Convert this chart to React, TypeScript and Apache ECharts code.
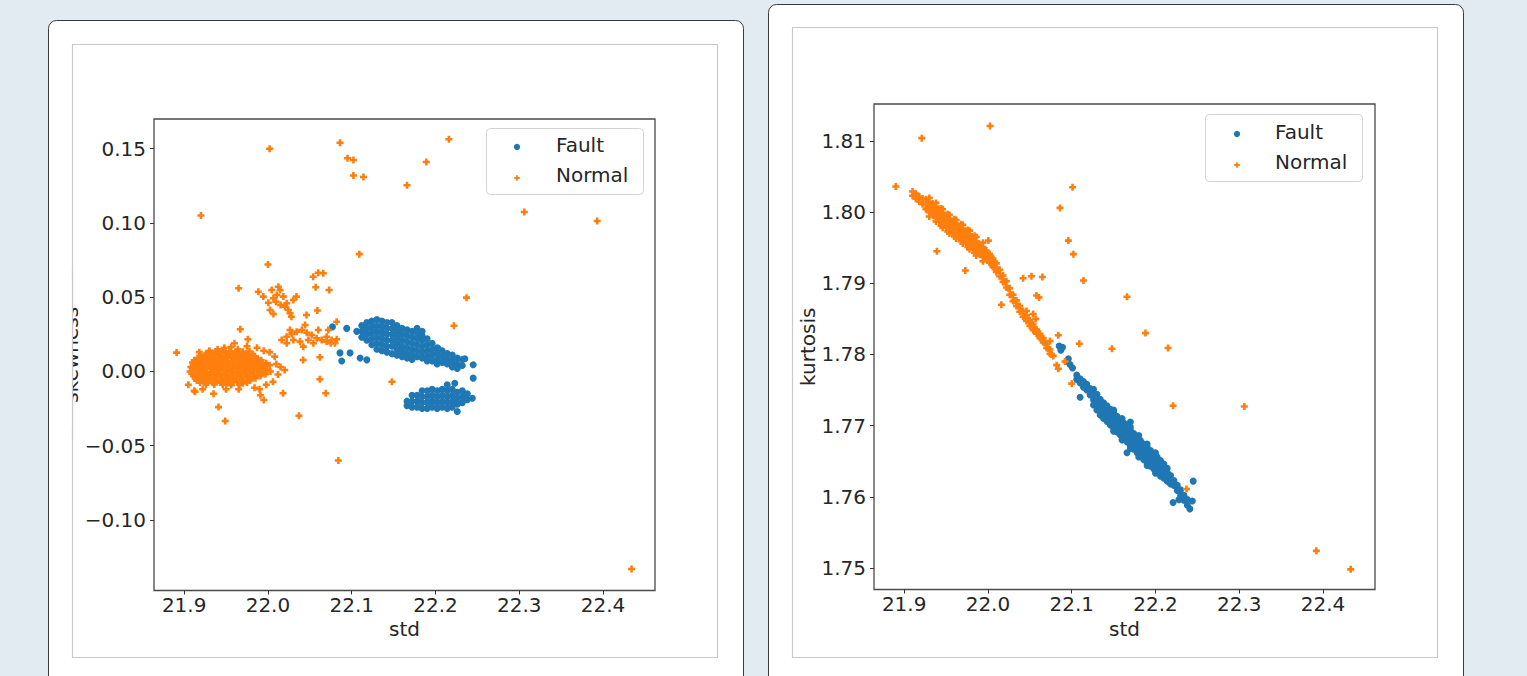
import React, { useEffect, useRef } from 'react';
import * as echarts from 'echarts';

// ---------- axis ranges & ticks ----------
const stdRange = [21.864, 22.462];
const skewRange = [-0.1475, 0.17];
const kurtRange = [1.74697, 1.8152];
const stdTicks = [21.9, 22.0, 22.1, 22.2, 22.3, 22.4];
const skewTicks = [-0.1, -0.05, 0, 0.05, 0.1, 0.15];
const kurtTicks = [1.75, 1.76, 1.77, 1.78, 1.79, 1.8, 1.81];
const legendNames = ['Fault', 'Normal'];

// ---------- std vs skewness : Fault ----------
const skewFaultUpper: number[][] = [
  [22.112, 0.031], [22.112, 0.027], [22.112, 0.023],
  [22.118, 0.033], [22.118, 0.029], [22.118, 0.025], [22.118, 0.021],
  [22.124, 0.034], [22.124, 0.03], [22.124, 0.026], [22.124, 0.022], [22.124, 0.018],
  [22.13, 0.035], [22.13, 0.031], [22.13, 0.027], [22.13, 0.023], [22.13, 0.019], [22.13, 0.015],
  [22.136, 0.034], [22.136, 0.03], [22.136, 0.026], [22.136, 0.022], [22.136, 0.018], [22.136, 0.014],
  [22.142, 0.033], [22.142, 0.029], [22.142, 0.025], [22.142, 0.021], [22.142, 0.017], [22.142, 0.013],
  [22.148, 0.033], [22.148, 0.029], [22.148, 0.025], [22.148, 0.021], [22.148, 0.017], [22.148, 0.012],
  [22.154, 0.031], [22.154, 0.027], [22.154, 0.023], [22.154, 0.019], [22.154, 0.015], [22.154, 0.011],
  [22.16, 0.029], [22.16, 0.025], [22.16, 0.021], [22.16, 0.017], [22.16, 0.013], [22.16, 0.01],
  [22.166, 0.028], [22.166, 0.024], [22.166, 0.02], [22.166, 0.016], [22.166, 0.012], [22.166, 0.009],
  [22.172, 0.027], [22.172, 0.023], [22.172, 0.019], [22.172, 0.015], [22.172, 0.011], [22.172, 0.008],
  [22.178, 0.029], [22.178, 0.026], [22.178, 0.022], [22.178, 0.018], [22.178, 0.014], [22.178, 0.01],
  [22.184, 0.027], [22.184, 0.024], [22.184, 0.021], [22.184, 0.017], [22.184, 0.013], [22.184, 0.009],
  [22.19, 0.022], [22.19, 0.018], [22.19, 0.014], [22.19, 0.01], [22.19, 0.007],
  [22.196, 0.019], [22.196, 0.015], [22.196, 0.011], [22.196, 0.007],
  [22.202, 0.016], [22.202, 0.012], [22.202, 0.008], [22.202, 0.005],
  [22.208, 0.014], [22.208, 0.01], [22.208, 0.006],
  [22.214, 0.012], [22.214, 0.008], [22.214, 0.005],
  [22.22, 0.011], [22.22, 0.007], [22.22, 0.003],
  [22.226, 0.009], [22.226, 0.005], [22.226, 0.002],
  [22.232, 0.008], [22.232, 0.004],
  [22.235, 0.0085], [22.245, 0.0045], [22.245, -0.0045],
  [22.077, 0.03], [22.094, 0.029], [22.086, 0.0125], [22.088, 0.007], [22.098, 0.0125],
  [22.11, 0.009], [22.118, 0.0078], [22.106, 0.027], [22.203, 0.0155],
];
const skewFaultLower: number[][] = [
  [22.166, -0.023], [22.166, -0.02],
  [22.172, -0.024], [22.172, -0.02], [22.172, -0.016],
  [22.178, -0.024], [22.178, -0.02], [22.178, -0.016],
  [22.184, -0.025], [22.184, -0.021], [22.184, -0.017], [22.184, -0.013],
  [22.19, -0.025], [22.19, -0.021], [22.19, -0.017], [22.19, -0.013],
  [22.196, -0.024], [22.196, -0.02], [22.196, -0.016], [22.196, -0.012],
  [22.202, -0.025], [22.202, -0.021], [22.202, -0.017], [22.202, -0.013],
  [22.208, -0.024], [22.208, -0.02], [22.208, -0.016], [22.208, -0.012],
  [22.214, -0.025], [22.214, -0.021], [22.214, -0.017], [22.214, -0.013], [22.214, -0.009],
  [22.22, -0.024], [22.22, -0.02], [22.22, -0.016], [22.22, -0.012],
  [22.226, -0.027], [22.226, -0.022], [22.226, -0.018], [22.226, -0.014],
  [22.232, -0.021], [22.232, -0.017], [22.232, -0.013],
  [22.238, -0.019], [22.238, -0.015],
  [22.244, -0.018], [22.223, -0.008],
];

// ---------- std vs skewness : Normal ----------
const skewNormalBlob: number[][] = [
  [21.94, 0.015], [21.948, 0.016], [21.956, 0.0165], [21.964, 0.015],
  [21.926, 0.012], [21.934, 0.0125], [21.942, 0.012], [21.95, 0.0125], [21.958, 0.012], [21.966, 0.0118], [21.974, 0.012], [21.982, 0.0115],
  [21.916, 0.009], [21.924, 0.0092], [21.932, 0.009], [21.94, 0.0088], [21.948, 0.009], [21.956, 0.0092], [21.964, 0.009], [21.972, 0.0088], [21.98, 0.009], [21.988, 0.0085],
  [21.91, 0.006], [21.918, 0.0062], [21.926, 0.006], [21.934, 0.0058], [21.942, 0.006], [21.95, 0.0062], [21.958, 0.006], [21.966, 0.0058], [21.974, 0.006], [21.982, 0.0062], [21.99, 0.006], [21.998, 0.0055],
  [21.908, 0.003], [21.916, 0.0032], [21.924, 0.003], [21.932, 0.0028], [21.94, 0.003], [21.948, 0.0032], [21.956, 0.003], [21.964, 0.0028], [21.972, 0.003], [21.98, 0.0032], [21.988, 0.003], [21.996, 0.0028],
  [21.907, 0.0], [21.915, 0.0002], [21.923, 0.0], [21.931, -0.0002], [21.939, 0.0], [21.947, 0.0002], [21.955, 0.0], [21.963, -0.0002], [21.971, 0.0], [21.979, 0.0002], [21.987, 0.0], [21.995, -0.0002], [22.003, 0.0],
  [21.911, -0.003], [21.919, -0.0028], [21.927, -0.003], [21.935, -0.0032], [21.943, -0.003], [21.951, -0.0028], [21.959, -0.003], [21.967, -0.0032], [21.975, -0.003], [21.983, -0.0028], [21.991, -0.003],
  [21.915, -0.006], [21.923, -0.0058], [21.931, -0.006], [21.939, -0.0062], [21.947, -0.006], [21.955, -0.0058], [21.963, -0.006], [21.971, -0.0062], [21.979, -0.006],
  [21.926, -0.009], [21.936, -0.0088], [21.946, -0.009], [21.956, -0.0092], [21.966, -0.009],
  [21.905, -0.009], [21.912, -0.013], [21.922, -0.012], [21.935, -0.015], [21.95, -0.012], [21.99, -0.012],
  [21.991, -0.016], [21.97, -0.008], [22.01, 0.005], [22.012, -0.002], [22.015, 0.003], [22.02, 0.001],
  [22.008, 0.01], [22.002, 0.013], [21.995, 0.014], [21.987, 0.016], [21.975, 0.017], [21.96, 0.019],
  [21.93, 0.014], [21.918, 0.013], [22.006, -0.007], [21.998, -0.009], [21.984, -0.011], [21.965, -0.012],
];
const skewNormalBlobFill: number[][] = [
  [21.93, 0.0135], [21.938, 0.0135], [21.946, 0.0138], [21.954, 0.0135], [21.962, 0.0135], [21.97, 0.0132], [21.978, 0.0135],
  [21.92, 0.0105], [21.928, 0.0105], [21.936, 0.0108], [21.944, 0.0105], [21.952, 0.0105], [21.96, 0.0102], [21.968, 0.0105], [21.976, 0.0105], [21.984, 0.0102],
  [21.912, 0.0075], [21.92, 0.0075], [21.928, 0.0078], [21.936, 0.0075], [21.944, 0.0075], [21.952, 0.0072], [21.96, 0.0075], [21.968, 0.0075], [21.976, 0.0078], [21.984, 0.0075], [21.992, 0.0075],
  [21.914, 0.0045], [21.922, 0.0045], [21.93, 0.0048], [21.938, 0.0045], [21.946, 0.0045], [21.954, 0.0042], [21.962, 0.0045], [21.97, 0.0045], [21.978, 0.0048], [21.986, 0.0045], [21.994, 0.0045], [22.002, 0.0042],
  [21.911, 0.0015], [21.919, 0.0015], [21.927, 0.0018], [21.935, 0.0015], [21.943, 0.0015], [21.951, 0.0012], [21.959, 0.0015], [21.967, 0.0015], [21.975, 0.0018], [21.983, 0.0015], [21.991, 0.0015], [21.999, 0.0012],
  [21.909, -0.0015], [21.917, -0.0015], [21.925, -0.0012], [21.933, -0.0015], [21.941, -0.0015], [21.949, -0.0018], [21.957, -0.0015], [21.965, -0.0015], [21.973, -0.0012], [21.981, -0.0015], [21.989, -0.0015], [21.997, -0.0018],
  [21.913, -0.0045], [21.921, -0.0045], [21.929, -0.0042], [21.937, -0.0045], [21.945, -0.0045], [21.953, -0.0048], [21.961, -0.0045], [21.969, -0.0045], [21.977, -0.0042], [21.985, -0.0045],
  [21.919, -0.0075], [21.927, -0.0075], [21.935, -0.0078], [21.943, -0.0075], [21.951, -0.0075], [21.959, -0.0072], [21.967, -0.0075], [21.975, -0.0075],
];
const skewNormalUpper: number[][] = [
  [21.9885, 0.0537], [21.9945, 0.0504], [22.0005, 0.0463], [22.0065, 0.0493], [22.0105, 0.0515],
  [22.0145, 0.0549], [22.0096, 0.047], [22.0152, 0.0448], [22.0204, 0.0436], [22.0243, 0.0414],
  [22.0263, 0.0392], [22.0224, 0.0459], [22.0303, 0.0481], [22.0184, 0.0504], [22.0124, 0.0571],
  [22.0045, 0.0549], [22.0025, 0.0414], [22.0065, 0.0387], [22.028, 0.0369],
];
const skewNormalMid: number[][] = [
  [22.0164, 0.0212], [22.0224, 0.0234], [22.0284, 0.0253], [22.0343, 0.0268], [22.0403, 0.0279],
  [22.0463, 0.0261], [22.0522, 0.0246], [22.0582, 0.0224], [22.0642, 0.0212], [22.0701, 0.0234],
  [22.0761, 0.0212], [22.0821, 0.0217], [22.0303, 0.0212], [22.0383, 0.0201], [22.0482, 0.0212],
  [22.0542, 0.019], [22.0263, 0.0279], [22.0443, 0.0313], [22.0601, 0.0279], [22.072, 0.0279],
  [22.0749, 0.019], [22.0224, 0.019], [22.0422, 0.0167], [22.0701, 0.0201], [22.08, 0.019],
];
const skewNormalSparse: number[][] = [
  [22.002, 0.15], [21.92, 0.105], [22.086, 0.154], [22.095, 0.1436], [22.102, 0.1424], [22.102, 0.132],
  [22.114, 0.131], [22.166, 0.1254], [22.189, 0.141], [22.216, 0.1564], [22.109, 0.079], [22.0, 0.072],
  [21.965, 0.056], [22.237, 0.0497], [22.222, 0.0308], [22.148, -0.0069], [21.891, 0.0127],
  [22.054, 0.0638], [22.06, 0.0665], [22.066, 0.0661], [22.057, 0.0567], [22.073, 0.0549],
  [22.034, 0.0504], [22.059, 0.041], [22.046, 0.038], [22.082, 0.0335], [21.967, 0.0284],
  [21.976, 0.0217], [22.062, 0.0096], [22.042, 0.0077], [22.062, -0.0053], [22.069, -0.0147],
  [22.018, -0.0147], [21.995, -0.0192], [21.941, -0.024], [21.949, -0.0333], [22.037, -0.0298],
  [22.084, -0.06], [22.434, -0.133], [22.306, 0.1074], [22.393, 0.1013], [21.913, -0.0136],
];

// ---------- std vs kurtosis : Fault ----------
const kurtFault: number[][] = [
  [22.085, 1.7812], [22.087, 1.7806], [22.089, 1.781], [22.094, 1.779], [22.098, 1.7786], [22.101, 1.7781], [22.096, 1.7794],
  [22.106, 1.7771], [22.106, 1.7765], [22.11, 1.7766], [22.11, 1.776], [22.114, 1.7762], [22.114, 1.7754],
  [22.118, 1.7758], [22.118, 1.775], [22.122, 1.7752], [22.122, 1.7743],
  [22.126, 1.7751], [22.126, 1.7744], [22.126, 1.7736], [22.126, 1.7729],
  [22.13, 1.7744], [22.13, 1.7737], [22.13, 1.7729], [22.13, 1.7722],
  [22.134, 1.7737], [22.134, 1.773], [22.134, 1.7722], [22.134, 1.7715],
  [22.138, 1.7732], [22.138, 1.7725], [22.138, 1.7717], [22.138, 1.771],
  [22.142, 1.7728], [22.142, 1.7721], [22.142, 1.7713], [22.142, 1.7706],
  [22.146, 1.7723], [22.146, 1.7716], [22.146, 1.7708], [22.146, 1.7701],
  [22.15, 1.7718], [22.15, 1.7711], [22.15, 1.7703], [22.15, 1.7696],
  [22.154, 1.7713], [22.154, 1.7706], [22.154, 1.7698], [22.154, 1.7691],
  [22.158, 1.7709], [22.158, 1.7702], [22.158, 1.7694], [22.158, 1.7687],
  [22.162, 1.7704], [22.162, 1.7697], [22.162, 1.7689], [22.162, 1.7682],
  [22.166, 1.7699], [22.166, 1.7692], [22.166, 1.7684], [22.166, 1.7677],
  [22.17, 1.7694], [22.17, 1.7687], [22.17, 1.7679], [22.17, 1.7672],
  [22.174, 1.7689], [22.174, 1.7682], [22.174, 1.7674], [22.174, 1.7667],
  [22.178, 1.7684], [22.178, 1.7677], [22.178, 1.7669], [22.178, 1.7662],
  [22.182, 1.7679], [22.182, 1.7672], [22.182, 1.7664], [22.182, 1.7657],
  [22.186, 1.7674], [22.186, 1.7667], [22.186, 1.7659], [22.186, 1.7652],
  [22.19, 1.767], [22.19, 1.7663], [22.19, 1.7655], [22.19, 1.7648],
  [22.194, 1.7665], [22.194, 1.7658], [22.194, 1.765], [22.194, 1.7643],
  [22.198, 1.7661], [22.198, 1.7654], [22.198, 1.7646], [22.198, 1.7639],
  [22.202, 1.7656], [22.202, 1.7649], [22.202, 1.7641], [22.202, 1.7634],
  [22.206, 1.7651], [22.206, 1.7644], [22.206, 1.7636], [22.206, 1.7629],
  [22.21, 1.7646], [22.21, 1.7639], [22.21, 1.7632], [22.21, 1.7626],
  [22.214, 1.764], [22.214, 1.7634], [22.214, 1.7628], [22.214, 1.7622],
  [22.218, 1.763], [22.218, 1.7624], [22.218, 1.7618],
  [22.222, 1.7623], [22.222, 1.7616], [22.226, 1.7616], [22.226, 1.7609],
  [22.23, 1.761], [22.23, 1.7602], [22.234, 1.7602], [22.234, 1.7595],
  [22.238, 1.7596], [22.238, 1.7588],
  [22.241, 1.7583], [22.245, 1.7622], [22.244, 1.7594], [22.221, 1.7592], [22.166, 1.7662],
  [22.17, 1.7705], [22.11, 1.774], [22.228, 1.7596],
  [22.15, 1.7722], [22.15, 1.7692], [22.17, 1.7698], [22.17, 1.7668], [22.19, 1.7674], [22.19, 1.7644],
  [22.16, 1.771], [22.18, 1.7686], [22.2, 1.7662], [22.16, 1.768], [22.18, 1.7656], [22.2, 1.7633],
];

// ---------- std vs kurtosis : Normal ----------
const kurtNormalStreak: number[][] = [
  [21.91, 1.8029], [21.91, 1.8023], [21.914, 1.8026], [21.914, 1.8019], [21.918, 1.8022], [21.918, 1.8015],
  [21.922, 1.8019], [21.922, 1.8011],
  [21.926, 1.8018], [21.926, 1.8011], [21.926, 1.8004],
  [21.93, 1.8014], [21.93, 1.8007], [21.93, 1.8],
  [21.934, 1.8012], [21.934, 1.8004], [21.934, 1.7996],
  [21.938, 1.8008], [21.938, 1.8], [21.938, 1.7992],
  [21.942, 1.8003], [21.942, 1.7995], [21.942, 1.7987],
  [21.946, 1.7999], [21.946, 1.7991], [21.946, 1.7983],
  [21.95, 1.7995], [21.95, 1.7987], [21.95, 1.7979],
  [21.954, 1.7991], [21.954, 1.7983], [21.954, 1.7975],
  [21.958, 1.7987], [21.958, 1.7979], [21.958, 1.7971],
  [21.962, 1.7984], [21.962, 1.7976], [21.962, 1.7968],
  [21.966, 1.798], [21.966, 1.7972], [21.966, 1.7964],
  [21.97, 1.7977], [21.97, 1.7969], [21.97, 1.7961],
  [21.974, 1.7973], [21.974, 1.7965], [21.974, 1.7957],
  [21.978, 1.7969], [21.978, 1.7961], [21.978, 1.7953],
  [21.982, 1.7964], [21.982, 1.7957], [21.982, 1.795],
  [21.986, 1.7959], [21.986, 1.7952], [21.986, 1.7945],
  [21.99, 1.7955], [21.99, 1.7948], [21.99, 1.7941],
  [21.994, 1.7951], [21.994, 1.7944], [21.994, 1.7937],
  [21.998, 1.7946], [21.998, 1.794], [21.998, 1.7934],
  [22.002, 1.7941], [22.002, 1.7935], [22.002, 1.7929],
  [22.006, 1.7935], [22.006, 1.7929], [22.006, 1.7923],
  [22.01, 1.7928], [22.01, 1.7922], [22.01, 1.7916],
  [22.014, 1.7919], [22.014, 1.791], [22.018, 1.7911], [22.018, 1.7902],
  [22.022, 1.7903], [22.022, 1.7894], [22.026, 1.7893], [22.026, 1.7884],
  [22.03, 1.7884], [22.03, 1.7875], [22.034, 1.7876], [22.034, 1.7868],
  [22.038, 1.7868], [22.038, 1.786], [22.042, 1.7861], [22.042, 1.7853],
  [22.046, 1.7855], [22.046, 1.7847], [22.05, 1.7848], [22.05, 1.784],
  [22.054, 1.7842], [22.054, 1.7834], [22.058, 1.7835], [22.058, 1.7829],
  [22.062, 1.7829], [22.062, 1.7823], [22.066, 1.7823], [22.066, 1.7817],
  [22.07, 1.7815], [22.07, 1.7809], [22.074, 1.7807], [22.074, 1.7801], [22.078, 1.7798],
];
const kurtNormalFill: number[][] = [
  [21.928, 1.8013], [21.928, 1.8005], [21.932, 1.801], [21.932, 1.8002], [21.936, 1.8006], [21.936, 1.7998],
  [21.94, 1.8002], [21.94, 1.7994], [21.944, 1.7997], [21.944, 1.7989], [21.948, 1.7993], [21.948, 1.7985],
  [21.952, 1.7989], [21.952, 1.7981], [21.956, 1.7985], [21.956, 1.7977], [21.96, 1.7982], [21.96, 1.7974],
  [21.964, 1.7978], [21.964, 1.797], [21.968, 1.7975], [21.968, 1.7967], [21.972, 1.7971], [21.972, 1.7963],
  [21.976, 1.7967], [21.976, 1.7959], [21.98, 1.7963], [21.98, 1.7955], [21.984, 1.7959], [21.984, 1.7951],
  [21.988, 1.7954], [21.988, 1.7946], [21.992, 1.795], [21.992, 1.7942], [21.996, 1.7946], [21.996, 1.7938],
  [22.0, 1.7942], [22.0, 1.7934], [22.004, 1.7936], [22.004, 1.7928], [22.008, 1.793], [22.008, 1.7922],
  [21.944, 1.8005], [21.944, 1.7981], [21.952, 1.7997], [21.952, 1.7973], [21.96, 1.799], [21.96, 1.7966],
  [21.968, 1.7983], [21.968, 1.7959], [21.976, 1.7975], [21.976, 1.7951], [21.984, 1.7967], [21.984, 1.7943],
  [22.012, 1.7918], [22.016, 1.791], [22.02, 1.7902], [22.024, 1.7893], [22.028, 1.7884], [22.032, 1.7876],
  [22.036, 1.7868], [22.04, 1.7861], [22.044, 1.7854], [22.048, 1.7848], [22.052, 1.7841], [22.056, 1.7835],
  [22.06, 1.7829], [22.064, 1.7823], [22.068, 1.7816], [22.072, 1.7808], [22.076, 1.78],
  [21.93, 1.802], [21.93, 1.7994], [21.938, 1.8013], [21.938, 1.7987], [21.946, 1.8004], [21.946, 1.7978],
  [21.954, 1.7996], [21.954, 1.797], [21.962, 1.7989], [21.962, 1.7963], [21.97, 1.7982], [21.97, 1.7956],
  [21.978, 1.7974], [21.978, 1.7948], [21.986, 1.7965], [21.986, 1.7939], [21.994, 1.7957], [21.994, 1.7931],
];
const kurtNormalSparse: number[][] = [
  [21.921, 1.8104], [22.0025, 1.8121], [21.89, 1.8036], [22.101, 1.8035], [22.086, 1.8006],
  [22.096, 1.796], [22.102, 1.7941], [22.114, 1.7904], [22.166, 1.7881], [22.188, 1.783],
  [22.215, 1.7809], [22.148, 1.7808], [22.109, 1.7815], [22.0005, 1.796], [21.939, 1.7945],
  [21.973, 1.7918], [22.042, 1.7907], [22.052, 1.791], [22.065, 1.7909], [22.058, 1.7883],
  [22.061, 1.788], [22.046, 1.7861], [22.054, 1.7857], [22.057, 1.785], [22.084, 1.7827],
  [22.084, 1.778], [22.1, 1.7759], [22.016, 1.787], [22.074, 1.7819], [22.237, 1.7611],
  [22.221, 1.7728], [22.306, 1.7727], [22.392, 1.7524], [22.433, 1.7498], [22.092, 1.779],
  [22.082, 1.7785],
];

// ---------- styling ----------
const FONT = '"DejaVu Sans", "Liberation Sans", sans-serif';
const TEXT = '#262626';
const BLUE = '#1f77b4';
const ORANGE = '#ff7f0e';
const PLUS = 'path://M1.9,0H4.1V1.9H6V4.1H4.1V6H1.9V4.1H0V1.9H1.9Z';

const fmtSigned = (v: number, d: number) => (v < -1e-9 ? '\u2212' : '') + Math.abs(v).toFixed(d);

function xAxisCfg(gridIndex: number, nameGap: number) {
  return {
    type: 'value', gridIndex, min: stdRange[0], max: stdRange[1],
    name: 'std', nameLocation: 'middle', nameGap,
    nameTextStyle: { fontFamily: FONT, fontSize: 20, color: TEXT },
    axisLine: { show: false, onZero: false }, splitLine: { show: false },
    axisTick: { show: true, inside: false, length: 4, lineStyle: { color: '#333', width: 1 }, customValues: stdTicks },
    axisLabel: { customValues: stdTicks, formatter: (v: number) => v.toFixed(1), margin: 4, fontFamily: FONT, fontSize: 20, color: TEXT },
  };
}
function yAxisCfg(gridIndex: number, range: number[], ticks: number[], name: string, nameGap: number) {
  return {
    type: 'value', gridIndex, min: range[0], max: range[1],
    name, nameLocation: 'middle', nameGap,
    nameTextStyle: { fontFamily: FONT, fontSize: 20, color: TEXT },
    axisLine: { show: false, onZero: false }, splitLine: { show: false },
    axisTick: { show: true, inside: false, length: 4, lineStyle: { color: '#333', width: 1 }, customValues: ticks },
    axisLabel: { customValues: ticks, formatter: (v: number) => fmtSigned(v, 2), margin: 8, fontFamily: FONT, fontSize: 20, color: TEXT },
  };
}

function plusPoints(cx: number, cy: number, h: number, t: number) {
  return [
    [cx - t, cy - h], [cx + t, cy - h], [cx + t, cy - t], [cx + h, cy - t], [cx + h, cy + t], [cx + t, cy + t],
    [cx + t, cy + h], [cx - t, cy + h], [cx - t, cy + t], [cx - h, cy + t], [cx - h, cy - t], [cx - t, cy - t],
  ];
}

function legendBox(x: number, y: number, w: number, h: number, markX: number, textX: number, row1: number, row2: number) {
  return [
    { type: 'rect', z: 20, shape: { x, y, width: w, height: h, r: 4 }, style: { fill: 'rgba(255,255,255,0.85)', stroke: '#d3d3d3', lineWidth: 1 } },
    { type: 'circle', z: 21, shape: { cx: markX, cy: row1 + 2, r: 3.1 }, style: { fill: BLUE } },
    { type: 'polygon', z: 21, shape: { points: plusPoints(markX, row2 + 3, 2.8, 0.9) }, style: { fill: ORANGE } },
    { type: 'text', z: 21, x: textX, y: row1, style: { text: legendNames[0], font: `20px ${FONT}`, fill: TEXT, verticalAlign: 'middle', align: 'left' } },
    { type: 'text', z: 21, x: textX, y: row2, style: { text: legendNames[1], font: `20px ${FONT}`, fill: TEXT, verticalAlign: 'middle', align: 'left' } },
  ];
}

function scatter(name: string, data: number[][], idx: number, isFault: boolean) {
  return {
    type: 'scatter', name, data, xAxisIndex: idx, yAxisIndex: idx,
    symbol: isFault ? 'circle' : PLUS, symbolSize: 7,
    itemStyle: { color: isFault ? BLUE : ORANGE, opacity: 1 },
    z: isFault ? 2 : 3,
  };
}

export default function App() {
  const ref = useRef<HTMLDivElement>(null);
  useEffect(() => {
    const chart = echarts.init(ref.current!, undefined, { renderer: 'svg' });
    const option: any = {
      animation: false,
      backgroundColor: '#e2eaf2',
      grid: [
        { left: 154, top: 119, width: 501, height: 471.5, show: true, borderColor: '#4a4a4a', borderWidth: 1.3, backgroundColor: '#fff', containLabel: false },
        { left: 874, top: 104, width: 501, height: 485.5, show: true, borderColor: '#4a4a4a', borderWidth: 1.3, backgroundColor: '#fff', containLabel: false },
      ],
      xAxis: [xAxisCfg(0, 25), xAxisCfg(1, 29)],
      yAxis: [
        yAxisCfg(0, skewRange, skewTicks, 'skewness', 73),
        yAxisCfg(1, kurtRange, kurtTicks, 'kurtosis', 54),
      ],
      series: [
        scatter('Fault', [...skewFaultUpper, ...skewFaultLower], 0, true),
        scatter('Normal', [...skewNormalBlob, ...skewNormalBlobFill, ...skewNormalUpper, ...skewNormalMid, ...skewNormalSparse], 0, false),
        scatter('Fault', kurtFault, 1, true),
        scatter('Normal', [...kurtNormalStreak, ...kurtNormalFill, ...kurtNormalSparse], 1, false),
      ],
      graphic: {
        elements: [
          { type: 'rect', z: -10, shape: { x: 48.5, y: 20.5, width: 695, height: 720, r: 8 }, style: { fill: '#fff', stroke: '#3a3a3a', lineWidth: 1 } },
          { type: 'rect', z: -10, shape: { x: 768.5, y: 4.5, width: 695, height: 740, r: 8 }, style: { fill: '#fff', stroke: '#3a3a3a', lineWidth: 1 } },
          { type: 'rect', z: -9, shape: { x: 72.5, y: 44.5, width: 645, height: 613 }, style: { fill: '#fff', stroke: '#c9c9c9', lineWidth: 1.2 } },
          { type: 'rect', z: -9, shape: { x: 792.5, y: 27.5, width: 645, height: 630 }, style: { fill: '#fff', stroke: '#c9c9c9', lineWidth: 1.2 } },
          { type: 'rect', z: 50, shape: { x: 50, y: 280, width: 22, height: 150 }, style: { fill: '#fff' } },
          { type: 'line', z: 51, shape: { x1: 72.5, y1: 270, x2: 72.5, y2: 440 }, style: { stroke: '#c9c9c9', lineWidth: 1.2 } },
          ...legendBox(486.5, 128.5, 157, 66, 517, 556, 145, 175),
          ...legendBox(1205.5, 114.5, 157, 67, 1237, 1275, 132, 162),
        ],
      },
    };
    chart.setOption(option);
    return () => chart.dispose();
  }, []);
  return <div ref={ref} style={{ position: 'fixed', left: 0, top: 0, width: 1527, height: 676 }} />;
}
